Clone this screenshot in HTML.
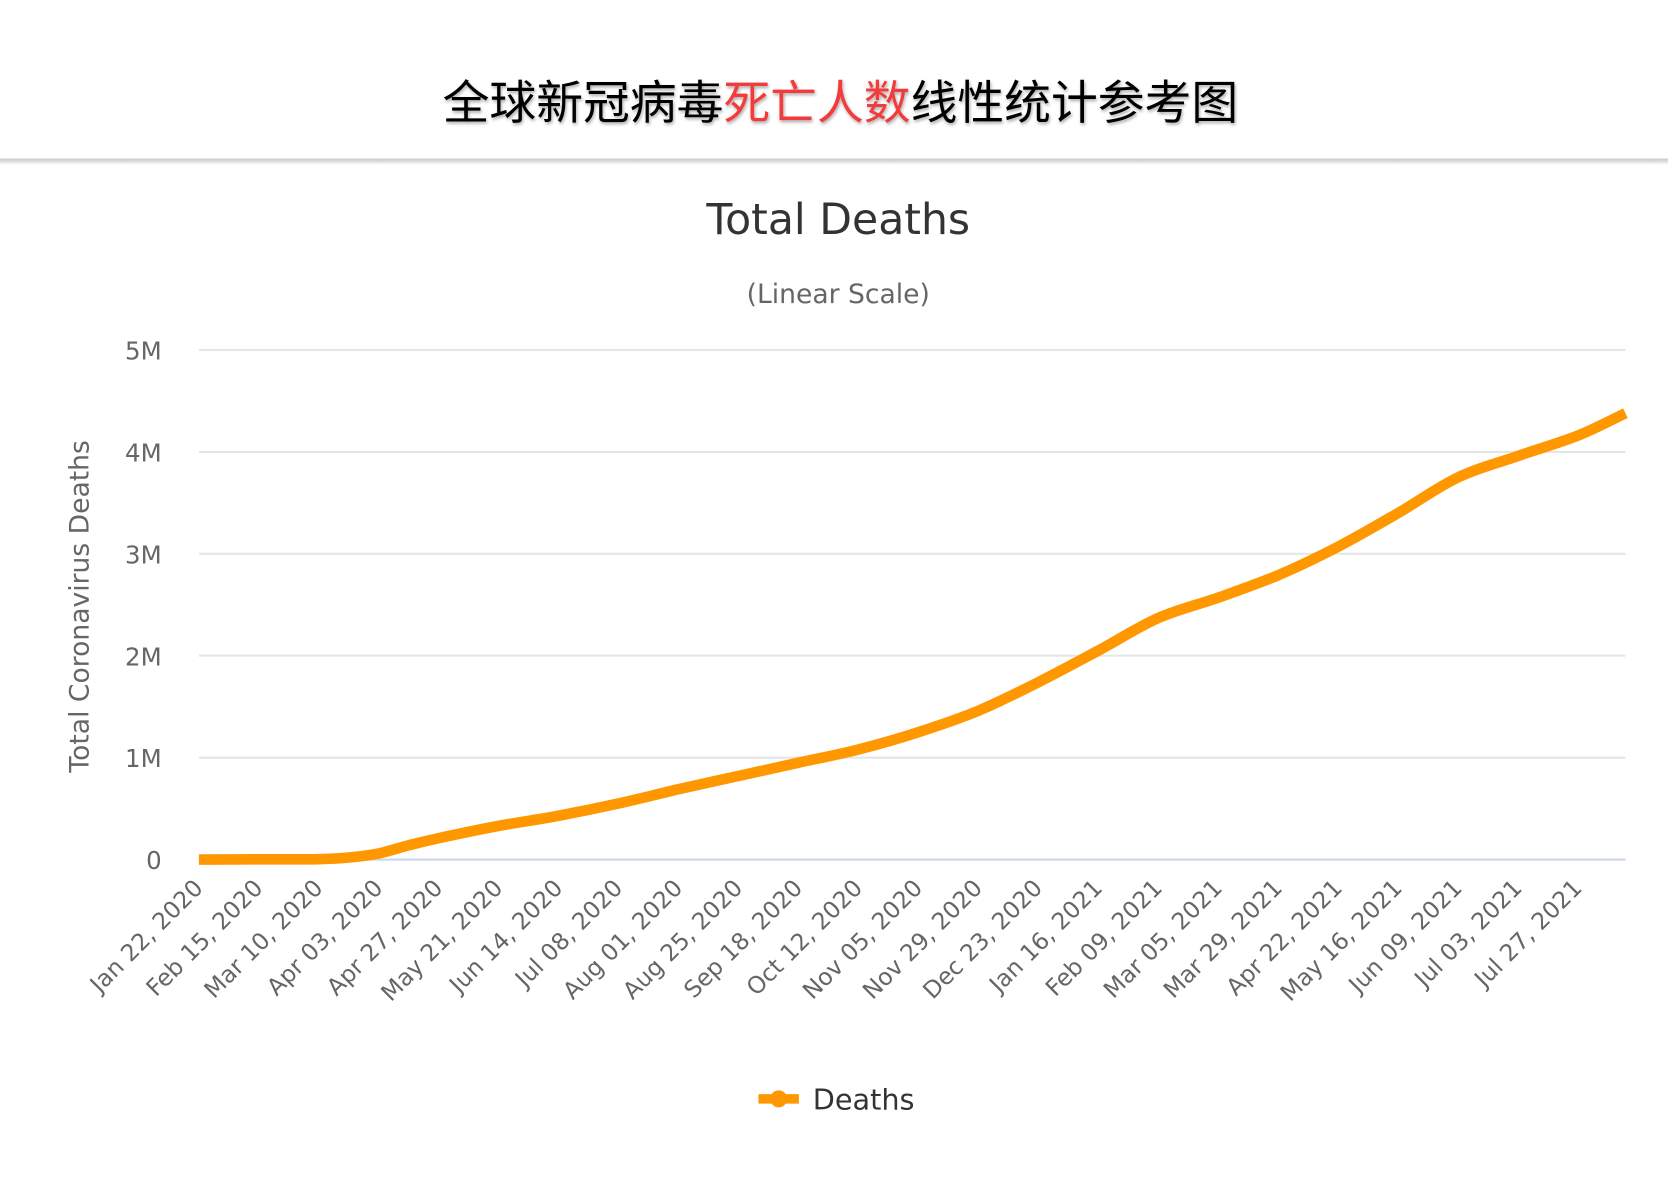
<!DOCTYPE html>
<html><head><meta charset="utf-8">
<style>
html,body{margin:0;padding:0;background:#fff;}
svg{display:block;}
</style></head>
<body>
<svg id="chart" width="1668" height="1179" viewBox="0 0 1568 1108.3" preserveAspectRatio="none" xmlns="http://www.w3.org/2000/svg">
  <defs>
    <filter id="sh" x="-5%" y="-20%" width="110%" height="150%">
      <feGaussianBlur in="SourceAlpha" stdDeviation="1.5"/>
      <feOffset dx="1" dy="2"/>
      <feComponentTransfer><feFuncA type="linear" slope="0.35"/></feComponentTransfer>
      <feMerge><feMergeNode/><feMergeNode in="SourceGraphic"/></feMerge>
    </filter>
    <linearGradient id="hdrsh" x1="0" y1="0" x2="0" y2="1">
      <stop offset="0" stop-color="#bbb"/><stop offset="1" stop-color="#fff"/>
    </linearGradient>
  </defs>
  <g>
    <text x="790" y="112" text-anchor="middle" font-family="'Liberation Sans','Noto Sans CJK SC',sans-serif" font-size="44" fill="#000" filter="url(#sh)">全球新冠病毒<tspan fill="#f23b3b">死亡人数</tspan>线性统计参考图</text>
    <rect x="0" y="149" width="1568" height="2" fill="#d0d0d0"/>
    <rect x="0" y="151" width="1568" height="4" fill="url(#hdrsh)" opacity="0.6"/>
  </g>
  <text x="788" y="220" text-anchor="middle" font-family="'DejaVu Sans',sans-serif" font-size="40" fill="#333">Total Deaths</text>
  <text x="788" y="285" text-anchor="middle" font-family="'DejaVu Sans',sans-serif" font-size="25" fill="#666">(Linear Scale)</text>
  <text transform="translate(83,570) rotate(-90)" text-anchor="middle" font-family="'DejaVu Sans',sans-serif" font-size="25" fill="#666">Total Coronavirus Deaths</text>
  <g id="grid"></g>
  <g id="xlabels"></g>
  <g id="series"></g>
  <g>
    <line x1="713" y1="1033" x2="751" y2="1033" stroke="#ff9800" stroke-width="9"/>
    <circle cx="732" cy="1033" r="8" fill="#ff9800"/>
    <text x="764" y="1043" font-family="'DejaVu Sans',sans-serif" font-size="27" fill="#333">Deaths</text>
  </g>
</svg>
<script>
const yTicks = [0, 1, 2, 3, 4, 5];
const yTickLabels = ["0", "1M", "2M", "3M", "4M", "5M"];
const xTickLabels = ["Jan 22, 2020","Feb 15, 2020","Mar 10, 2020","Apr 03, 2020","Apr 27, 2020","May 21, 2020","Jun 14, 2020","Jul 08, 2020","Aug 01, 2020","Aug 25, 2020","Sep 18, 2020","Oct 12, 2020","Nov 05, 2020","Nov 29, 2020","Dec 23, 2020","Jan 16, 2021","Feb 09, 2021","Mar 05, 2021","Mar 29, 2021","Apr 22, 2021","May 16, 2021","Jun 09, 2021","Jul 03, 2021","Jul 27, 2021"];
const xTickDays = [0,24,48,72,96,120,144,168,192,216,240,264,288,312,336,360,384,408,432,456,480,504,528,552];
const dataDays = [0,24,48,60,72,84,96,120,144,168,192,216,240,264,288,312,336,360,384,408,432,456,480,504,528,552,571];
const deathsM = [0,0.002,0.004,0.02,0.06,0.14,0.21,0.33,0.43,0.55,0.69,0.82,0.95,1.08,1.25,1.46,1.74,2.05,2.37,2.57,2.79,3.07,3.40,3.75,3.96,4.16,4.38];

const NS = "http://www.w3.org/2000/svg";
const X0 = 187, X1 = 1528, DMAX = 571, Y0 = 808, Y5 = 329, VMAX = 5;
function xScale(d){ return X0 + (X1 - X0) * d / DMAX; }
function yScale(v){ return Y0 - (Y0 - Y5) * v / VMAX; }
function mk(tag, attrs){ const e = document.createElementNS(NS, tag); for (const k in attrs) e.setAttribute(k, attrs[k]); return e; }

const grid = document.getElementById('grid');
yTicks.forEach((t, i) => {
  const y = yScale(t);
  const ln = mk('line', {x1: X0, x2: X1, y1: y, y2: y, stroke: i === 0 ? '#ccd6eb' : '#e6e6e6', 'stroke-width': 2});
  
  
  grid.appendChild(ln);
  const tx = mk('text', {x: 152, y: y + 9, 'text-anchor': 'end', 'font-family': "'DejaVu Sans',sans-serif", 'font-size': 23, fill: '#666'});
  tx.textContent = yTickLabels[i];
  
  
  grid.appendChild(tx);
});

const xl = document.getElementById('xlabels');
xTickLabels.forEach((lab, i) => {
  const x = xScale(xTickDays[i]) + 5, y = 836;
  const tx = mk('text', {x: 0, y: 0, transform: `translate(${x},${y}) rotate(-45)`, 'text-anchor': 'end', 'font-family': "'DejaVu Sans',sans-serif", 'font-size': 22, fill: '#666'});
  tx.textContent = lab;
  
  
  xl.appendChild(tx);
});

const pts = dataDays.map((d, i) => [xScale(d), yScale(deathsM[i])]);
let dStr = `M${pts[0][0]},${pts[0][1]}`;
for (let i = 0; i < pts.length - 1; i++) {
  const p0 = pts[Math.max(0, i - 1)], p1 = pts[i], p2 = pts[i + 1], p3 = pts[Math.min(pts.length - 1, i + 2)];
  const c1 = [p1[0] + (p2[0] - p0[0]) / 6, p1[1] + (p2[1] - p0[1]) / 6];
  const c2 = [p2[0] - (p3[0] - p1[0]) / 6, p2[1] - (p3[1] - p1[1]) / 6];
  dStr += ` C${c1[0]},${c1[1]} ${c2[0]},${c2[1]} ${p2[0]},${p2[1]}`;
}
const path = mk('path', {d: dStr, fill: 'none', stroke: '#ff9800', 'stroke-width': 10, 'stroke-linejoin': 'round'});


document.getElementById('series').appendChild(path);
</script>
</body></html>
